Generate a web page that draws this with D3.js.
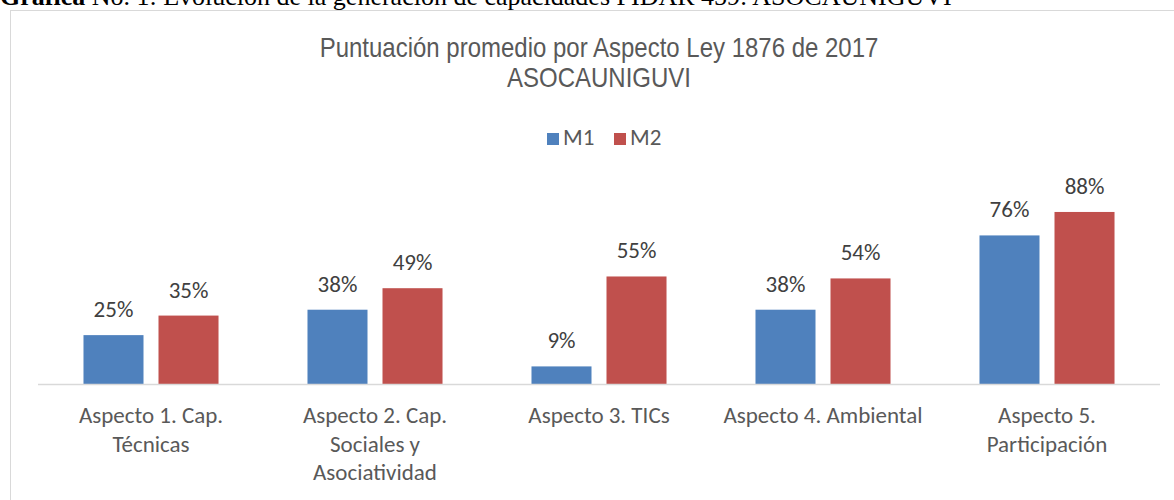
<!DOCTYPE html>
<html>
<head>
<meta charset="utf-8">
<script src="https://cdn.jsdelivr.net/npm/d3@7"></script>
<style>
  html, body { margin: 0; padding: 0; background: #fff; overflow: hidden; }
  svg { display: block; }
</style>
</head>
<body>
<svg id="chart" width="1174" height="500"></svg>
<script>
const captionBold = "Gráfica";
const captionRest = " No. 1: Evolución de la generación de capacidades PIDAR 459: ASOCAUNIGUVI";
const titleLines = ["Puntuación promedio por Aspecto Ley 1876 de 2017", "ASOCAUNIGUVI"];
const categories = ["Aspecto 1. Cap. Técnicas", "Aspecto 2. Cap. Sociales y Asociatividad", "Aspecto 3. TICs", "Aspecto 4. Ambiental", "Aspecto 5. Participación"];
const categoryLines = [["Aspecto 1. Cap.", "Técnicas"], ["Aspecto 2. Cap.", "Sociales y", "Asociatividad"], ["Aspecto 3. TICs"], ["Aspecto 4. Ambiental"], ["Aspecto 5.", "Participación"]];
const seriesNames = ["M1", "M2"];
const m1 = [0.25, 0.38, 0.09, 0.38, 0.76];
const m2 = [0.35, 0.49, 0.55, 0.54, 0.88];
const colors = ["#4F81BD", "#C0504D"];

const svg = d3.select("#chart");
const textColor = "#595959";
const bodyFont = "Carlito, Calibri, Lato, 'Open Sans', sans-serif";
const bodySize = 23;

// caption (cropped at top, as in the source page)
const cap = svg.append("text").attr("x", 0).attr("y", 5)
  .attr("font-family", "'Liberation Serif', 'Times New Roman', serif")
  .attr("font-size", 26).attr("fill", "#000");
cap.append("tspan").attr("font-weight", "bold").text(captionBold);
cap.append("tspan").text(captionRest);

// chart frame
svg.append("rect").attr("x", 10.5).attr("y", 10.5).attr("width", 1200).attr("height", 520)
  .attr("fill", "none").attr("stroke", "#D9D9D9").attr("stroke-width", 1);

// title (condensed sans)
const titleCx = 599;
svg.append("g").attr("transform", `translate(${titleCx},0) scale(0.857,1)`)
  .selectAll("text").data(titleLines).join("text")
  .attr("x", 0).attr("y", (d, i) => 57 + i * 30)
  .attr("text-anchor", "middle")
  .attr("font-family", "'Liberation Sans', Arial, sans-serif")
  .attr("font-size", 28).attr("fill", textColor)
  .text(d => d);

// legend
const legend = svg.append("g").attr("font-family", bodyFont).attr("font-size", bodySize).attr("fill", textColor);
const legendX = [547, 614];
seriesNames.forEach((s, i) => {
  legend.append("rect").attr("x", legendX[i]).attr("y", 133).attr("width", 12).attr("height", 12).attr("fill", colors[i]);
  legend.append("text").attr("x", legendX[i] + 16).attr("y", 145).text(s);
});

// scales
const baseline = 384;
const y = d3.scaleLinear().domain([0, 1]).range([baseline, 188.5]);
const x0 = d3.scaleBand().domain(categories).range([39, 1159]).padding(0);
const x1 = d3.scaleBand().domain(seriesNames).range([0, x0.bandwidth()]).paddingInner(0.2).paddingOuter(0.593);

const data = categories.map((c, i) => ({ cat: c, values: [m1[i], m2[i]] }));

const groups = svg.append("g").selectAll("g").data(data).join("g")
  .attr("transform", d => `translate(${x0(d.cat)},0)`);

groups.selectAll("rect").data(d => d.values.map((v, i) => ({ s: seriesNames[i], v, i }))).join("rect")
  .attr("x", d => x1(d.s)).attr("y", d => y(d.v))
  .attr("width", x1.bandwidth()).attr("height", d => baseline - y(d.v))
  .attr("fill", d => colors[d.i]);

groups.selectAll("text.lbl").data(d => d.values.map((v, i) => ({ s: seriesNames[i], v, i }))).join("text")
  .attr("class", "lbl")
  .attr("x", d => x1(d.s) + x1.bandwidth() / 2).attr("y", d => y(d.v) - 18)
  .attr("text-anchor", "middle")
  .attr("font-family", bodyFont).attr("font-size", bodySize).attr("fill", "#404040")
  .text(d => d3.format(".0%")(d.v));

// x axis line
svg.append("line").attr("x1", 38).attr("x2", 1160).attr("y1", baseline + 0.5).attr("y2", baseline + 0.5)
  .attr("stroke", "#D9D9D9").attr("stroke-width", 1.5);

// category labels
const catG = svg.append("g").attr("font-family", bodyFont).attr("font-size", bodySize).attr("fill", textColor).attr("text-anchor", "middle");
categories.forEach((c, i) => {
  const cx = x0(c) + x0.bandwidth() / 2;
  const t = catG.append("text").attr("x", cx).attr("y", 423);
  categoryLines[i].forEach((ln, j) => {
    t.append("tspan").attr("x", cx).attr("y", 423 + j * 28.5).text(ln);
  });
});
</script>
</body>
</html>
